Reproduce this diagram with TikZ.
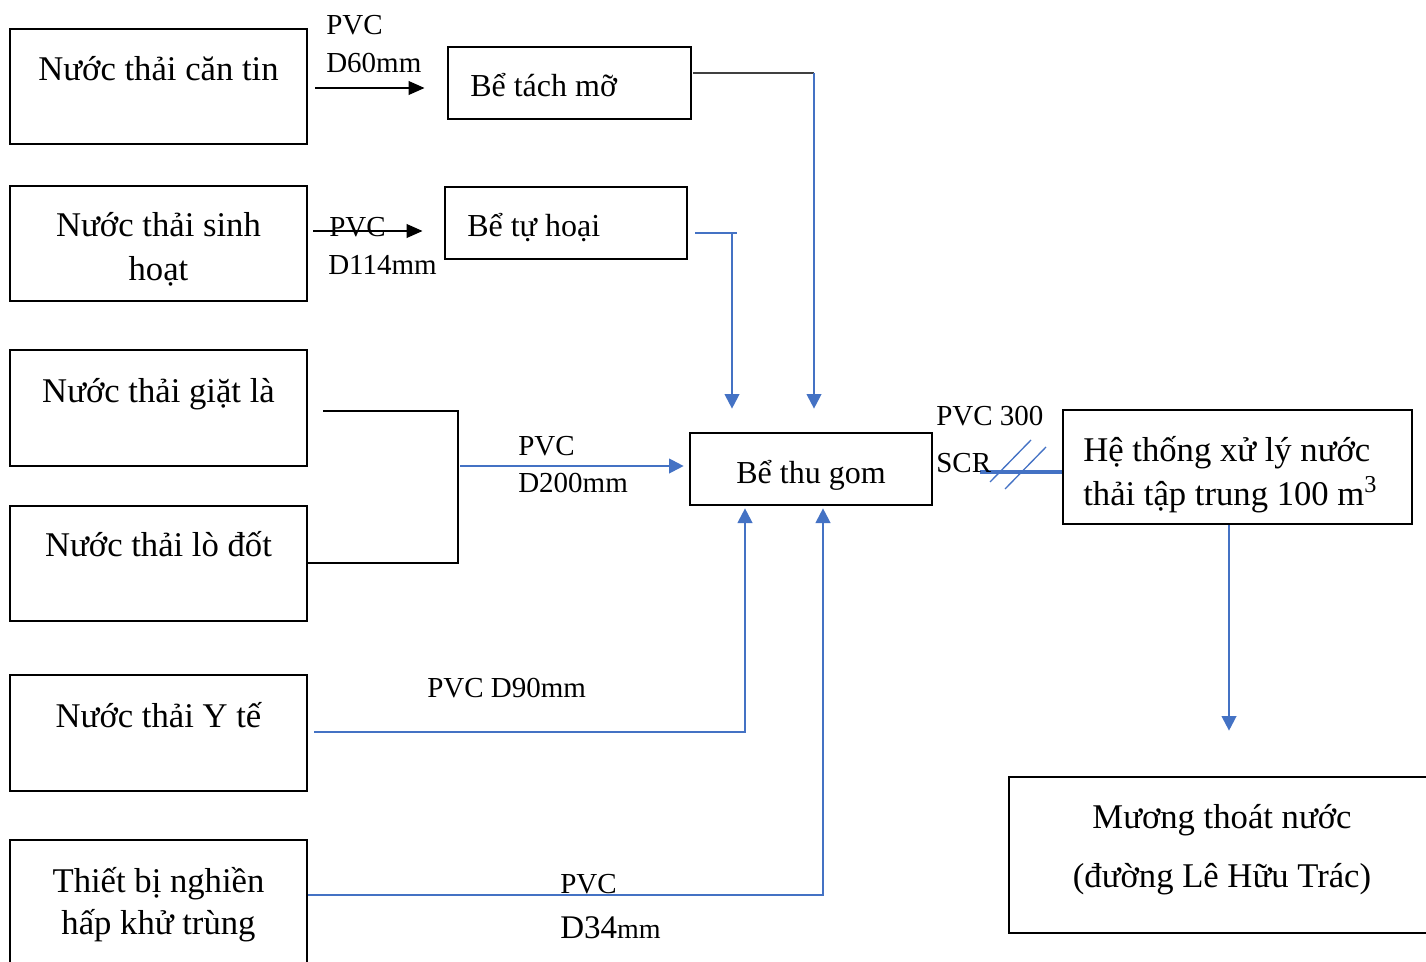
\documentclass[tikz,border=0pt]{standalone}
\usepackage{fontspec}
\setmainfont{Liberation Serif}
\usetikzlibrary{arrows.meta,fit,calc}
\definecolor{pipe}{HTML}{4472C4}
\definecolor{darkline}{HTML}{404040}
\begin{document}
\begin{tikzpicture}[x=0.75pt,y=-0.75pt,
  box/.style={draw=black,line width=2pt,inner sep=0pt},
  txt/.style={font=\fontsize{24}{33}\selectfont,inner sep=0pt,anchor=base},
  bigtxt/.style={font=\fontsize{26}{33}\selectfont,inner sep=0pt,anchor=base},
  lbl/.style={font=\fontsize{21.75}{28}\selectfont,inner sep=0pt,anchor=base west},
  flow/.style={draw=pipe,line width=1.6pt},
  flowarrow/.style={flow,-{Triangle[width=11pt,length=11pt]}},
  blackarrow/.style={draw=black,line width=2pt,-{Triangle[width=10pt,length=12pt]}},
  thinline/.style={draw=black,line width=1.1pt},
  grayline/.style={draw=darkline,line width=1.5pt},
  trunk/.style={draw=pipe,line width=2.4pt},
  hatch/.style={draw=pipe,line width=1pt}]
\path[use as bounding box] (0,0) rectangle (1426,962);
\clip (0,0) rectangle (1426,962);

% sources
\node[box,fit={(10,29)(307,144)}] (canteen) {};
\node[bigtxt] (canteenT) at (158.5,81) {Nước thải căn tin};
\node[box,fit={(10,186)(307,301)}] (domestic) {};
\node[bigtxt] (domesticT1) at (158.5,237) {Nước thải sinh};
\node[bigtxt] (domesticT2) at (158.5,281) {hoạt};
\node[box,fit={(10,350)(307,466)}] (laundry) {};
\node[bigtxt] (laundryT) at (158.5,402) {Nước thải giặt là};
\node[box,fit={(10,506)(307,621)}] (incin) {};
\node[bigtxt] (incinT) at (158.5,556) {Nước thải lò đốt};
\node[box,fit={(10,675)(307,791)}] (medical) {};
\node[bigtxt] (medicalT) at (158.5,727) {Nước thải Y tế};
\node[box,fit={(10,840)(307,980)}] (steril) {};
\node[bigtxt] (sterilT1) at (158.5,892) {Thiết bị nghiền};
\node[bigtxt] (sterilT2) at (158.5,934) {hấp khử trùng};

% tanks and treatment
\node[box,fit={(448,47)(691,119)}] (grease) {};
\node[txt,anchor=base west] (greaseT) at (470,97) {Bể tách mỡ};
\node[box,fit={(445,187)(687,259)}] (septic) {};
\node[txt,anchor=base west] (septicT) at (467,237) {Bể tự hoại};
\node[box,fit={(690,433)(932,505)}] (collect) {};
\node[txt] (collectT) at (811,483) {Bể thu gom};
\node[box,fit={(1063,410)(1412,524)}] (plant) {};
\node[bigtxt,anchor=base west] (plantT1) at (1083,461) {Hệ thống xử lý nước};
\node[bigtxt,anchor=base west] (plantT2) at (1083,505) {thải tập trung 100 m\textsuperscript{3}};
\node[box,fit={(1009,777)(1445,933)}] (drain) {};
\node[bigtxt] (drainT1) at (1222,828) {Mương thoát nước};
\node[bigtxt] (drainT2) at (1222,887) {(đường Lê Hữu Trác)};

% canteen -> grease trap
\draw[blackarrow] ($(canteen.east)+(7,1.5)$) -- ($(grease.west |- canteen.east)+(-22,1.5)$);
\node[lbl] (l1a) at (326,35) {PVC};
\node[lbl] (l1b) at (326,73) {D60mm};

% domestic -> septic tank
\node[lbl] (l2a) at (329,237) {PVC};
\node[lbl] (l2b) at (328,275) {D114mm};
\draw[blackarrow] ($(domestic.east)+(5,-12.5)$) -- ($(septic.west |- domestic.east)+(-21,-12.5)$);

% grease trap -> collection tank
\coordinate (gturn) at (814,73);
\draw[grayline] ($(grease.east)+(1,-10)$) -- (gturn);
\draw[flowarrow] (gturn) -- ($(gturn |- collect.north)+(0,-23)$);

% septic tank -> collection tank
\coordinate (sturn) at (732,233);
\draw[flow] ($(septic.east)+(7,10)$) -- ($(sturn)+(5,0)$);
\draw[flowarrow] (sturn) -- ($(sturn |- collect.north)+(0,-23)$);

% laundry + incinerator -> collection tank
\coordinate (mtop) at (458,411);
\coordinate (mbot) at (458,563);
\coordinate (mmid) at (460,466);
\draw[thinline] ($(laundry.east)+(15,3)$) -- (mtop) -- (mbot) -- (incin.east |- mbot);
\draw[flowarrow] (mmid) -- ($(collect.west |- mmid)+(-5,0)$);
\node[lbl] (l3a) at (518,455) {PVC};
\node[lbl] (l3b) at (518,492) {D200mm};

% medical -> collection tank
\draw[flowarrow] ($(medical.east)+(6,-1)$) -| ($(collect.south)+(-66,2)$);
\node[lbl] (l4) at (427,697) {PVC D90mm};

% sterilizer -> collection tank
\draw[flowarrow] ($(steril.east)+(0,-15)$) -| ($(collect.south)+(12,2)$);
\node[lbl] (l5a) at (560,893) {PVC};
\node[lbl] (l5b) at (560,938) {{\fontsize{24.75}{28}\selectfont D34}{\fontsize{21}{28}\selectfont mm}};

% collection tank -> treatment plant
\coordinate (scr) at (980,472);
\draw[trunk] (scr) -- (plant.west |- scr);
\draw[hatch] (990,482) -- (1031,440);
\draw[hatch] (1005,489) -- (1046,447);
\node[lbl] (l6a) at (936,425) {PVC 300};
\node[lbl] (l6b) at (936,472) {SCR};

% treatment plant -> drainage channel
\coordinate (pd) at ($(plant.south)+(-8.5,0)$);
\draw[flowarrow] (pd) -- ($(pd |- drain.north)+(0,-45)$);
\end{tikzpicture}
\end{document}
